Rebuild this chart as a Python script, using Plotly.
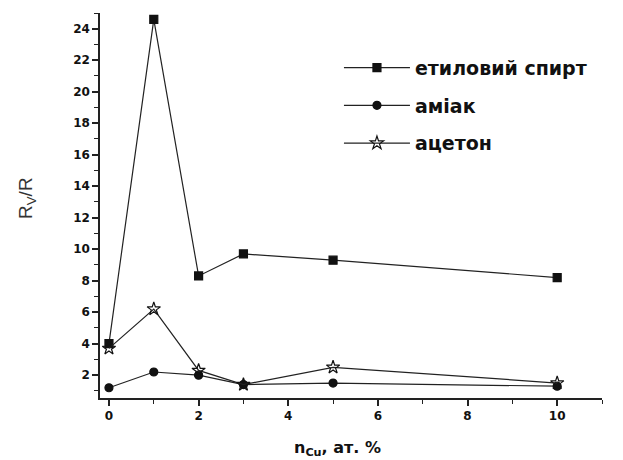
import plotly.graph_objects as go

x_vals = [0, 1, 2, 3, 5, 10]
ethanol = [4.0, 24.6, 8.3, 9.7, 9.3, 8.2]
ammonia = [1.2, 2.2, 2.0, 1.4, 1.5, 1.3]
acetone = [3.7, 6.2, 2.3, 1.4, 2.5, 1.5]
names = ["етиловий спирт", "аміак", "ацетон"]
x_ticks = [0, 2, 4, 6, 8, 10]
y_ticks = [2, 4, 6, 8, 10, 12, 14, 16, 18, 20, 22, 24]

fig = go.Figure()
series = [
    (ethanol, names[0], "square", 8),
    (ammonia, names[1], "circle", 8),
    (acetone, names[2], "star-open", 10),
]
for i, (vals, nm, sym, sz) in enumerate(series):
    fig.add_trace(go.Scatter(
        x=x_vals, y=vals, name=nm, mode="lines+markers",
        legendgroup=f"g{i}",
        line=dict(color="#222222", width=1.2),
        marker=dict(symbol=sym, size=sz, color="#111111",
                    line=dict(color="#111111", width=1.2)),
    ))

axis_font = dict(family="DejaVu Sans", size=12, color="#111111", weight="bold")
fig.update_layout(
    width=615, height=452,
    margin=dict(l=92, r=21, t=5, b=62),
    plot_bgcolor="white", paper_bgcolor="white",
    showlegend=True,
    legend=dict(x=0.476, y=0.907, xanchor="left", yanchor="top",
                font=dict(family="DejaVu Sans", size=19, color="#111111", weight="bold"),
                tracegroupgap=10, bgcolor="rgba(0,0,0,0)", itemwidth=66),
    xaxis=dict(range=[-0.2, 11], tickvals=x_ticks, ticktext=[str(v) for v in x_ticks],
               showline=True, linecolor="#222222", linewidth=1.5, mirror=False,
               ticks="outside", ticklen=6, tickwidth=1.5, tickcolor="#222222",
               minor=dict(tickvals=[1, 3, 5, 7, 9, 11], ticks="outside", ticklen=4,
                          tickcolor="#222222", tickwidth=1.2),
               showgrid=False, zeroline=False, tickfont=axis_font),
    yaxis=dict(range=[0.55, 25.0], tickvals=y_ticks, ticktext=[str(v) for v in y_ticks],
               showline=True, linecolor="#222222", linewidth=1.5, mirror=False,
               ticks="outside", ticklen=6, tickwidth=1.5, tickcolor="#222222",
               minor=dict(tickvals=[1, 3, 5, 7, 9, 11, 13, 15, 17, 19, 21, 23, 25],
                          ticks="outside", ticklen=4, tickcolor="#222222", tickwidth=1.2),
               showgrid=False, zeroline=False, tickfont=axis_font),
)
fig.add_annotation(text="R<sub>V</sub>/R", xref="paper", yref="paper",
                   x=-0.145, y=0.52, xanchor="center", yanchor="middle",
                   showarrow=False, textangle=-90,
                   font=dict(family="Liberation Sans", size=19, color="#333333"))
fig.add_annotation(text="n<sub>Cu</sub>, ат. %", xref="paper", yref="paper",
                   x=0.474, y=-0.098, xanchor="center", yanchor="top", showarrow=False,
                   font=dict(family="DejaVu Sans", size=16, color="#111111", weight="bold"))
fig.write_html("out.html")
